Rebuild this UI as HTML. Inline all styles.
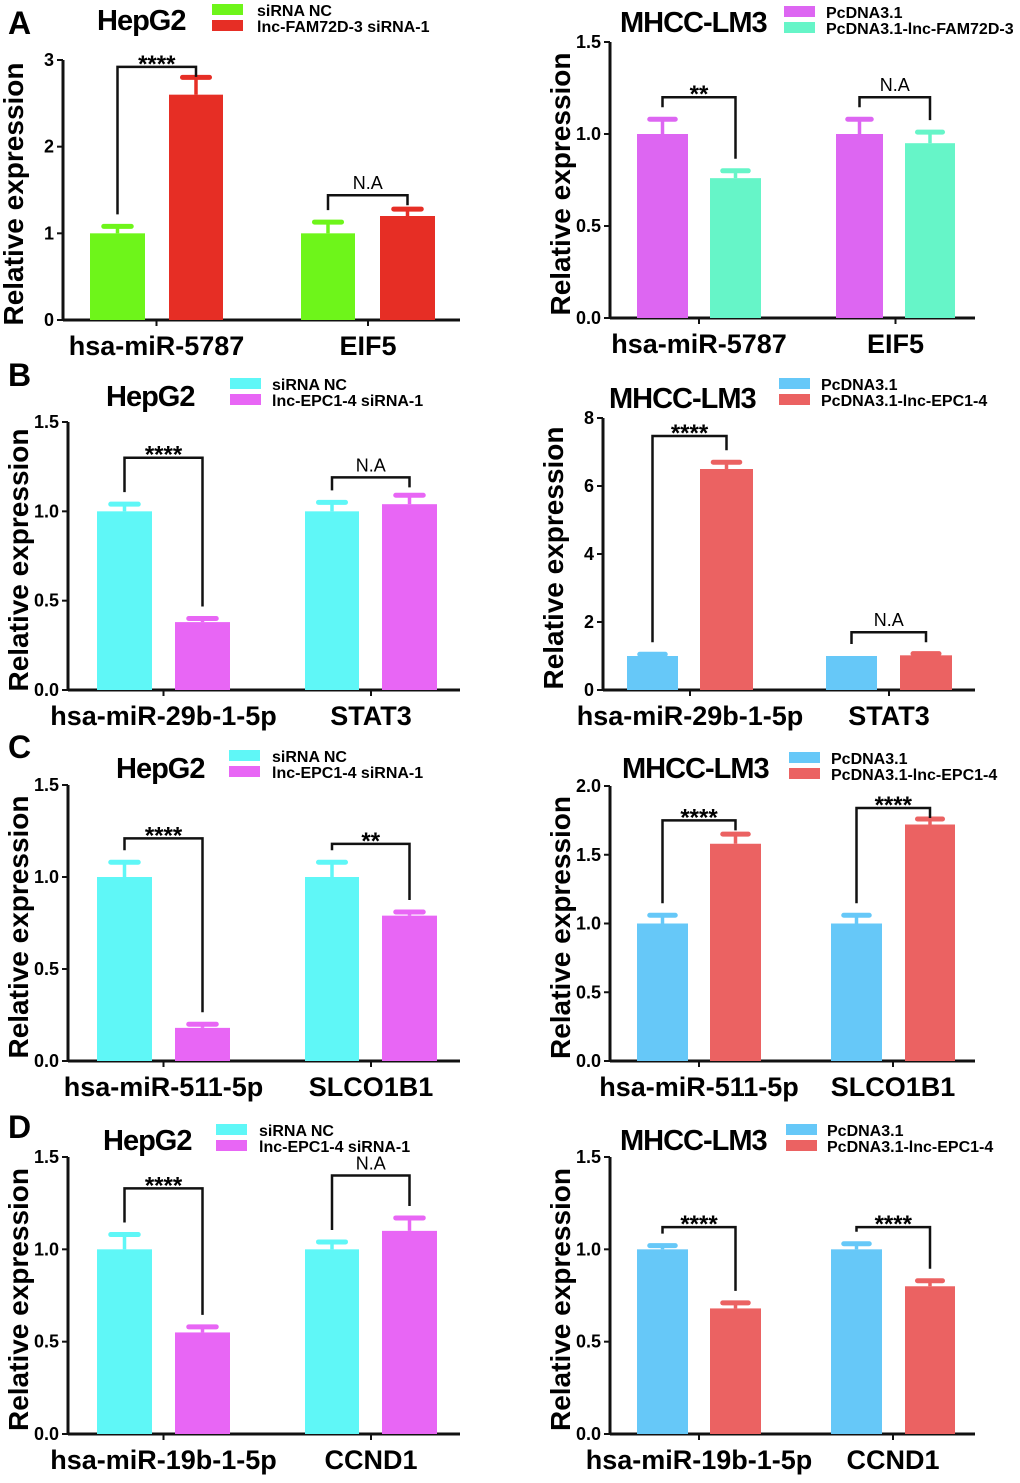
<!DOCTYPE html>
<html><head><meta charset="utf-8"><style>
html,body{margin:0;padding:0;background:#fff}
svg{display:block;font-family:"Liberation Sans",Arial,sans-serif}
</style></head><body>
<svg id="fig" width="1020" height="1483" viewBox="0 0 1020 1483" xmlns="http://www.w3.org/2000/svg"></svg>
<script>
// ---- data ----
const catsA=["hsa-miR-5787","EIF5"];
const catsB=["hsa-miR-29b-1-5p","STAT3"];
const catsC=["hsa-miR-511-5p","SLCO1B1"];
const catsD=["hsa-miR-19b-1-5p","CCND1"];
const aLeftVals=[[1,2.6],[1,1.2]];const aLeftErr=[[0.08,0.2],[0.13,0.08]];
const aRightVals=[[1,0.76],[1,0.95]];const aRightErr=[[0.08,0.04],[0.08,0.06]];
const bLeftVals=[[1,0.38],[1,1.04]];const bLeftErr=[[0.04,0.02],[0.05,0.05]];
const bRightVals=[[1,6.5],[1,1.02]];const bRightErr=[[0.05,0.2],[0,0.05]];
const cLeftVals=[[1,0.18],[1,0.79]];const cLeftErr=[[0.08,0.02],[0.08,0.02]];
const cRightVals=[[1,1.58],[1,1.72]];const cRightErr=[[0.06,0.07],[0.06,0.04]];
const dLeftVals=[[1,0.55],[1,1.1]];const dLeftErr=[[0.08,0.03],[0.04,0.07]];
const dRightVals=[[1,0.68],[1,0.8]];const dRightErr=[[0.02,0.03],[0.03,0.03]];
const ticks3=["0","1","2","3"];const ticks15=["0.0","0.5","1.0","1.5"];
const ticks8=["0","2","4","6","8"];const ticks20=["0.0","0.5","1.0","1.5","2.0"];
const sigA1=["****","N.A"],sigA2=["**","N.A"],sigB1=["****","N.A"],sigB2=["****","N.A"],
      sigC1=["****","**"],sigC2=["****","****"],sigD1=["****","N.A"],sigD2=["****","****"];
const brA1=[2.92,1.44],brA2=[1.2,1.2],brB1=[1.3,1.19],brB2=[7.47,1.7],brC1=[1.21,1.18],brC2=[1.75,1.84],brD1=[1.33,1.4],brD2=[1.12,1.12];
const legHepA=["siRNA NC","lnc-FAM72D-3 siRNA-1"],legLMA=["PcDNA3.1","PcDNA3.1-lnc-FAM72D-3"];
const legHep=["siRNA NC","lnc-EPC1-4 siRNA-1"],legLM=["PcDNA3.1","PcDNA3.1-lnc-EPC1-4"];

const S=document.getElementById('fig');const NS="http://www.w3.org/2000/svg";
function mk(tag,at,parent,txt){const e=document.createElementNS(NS,tag);for(const k in at)e.setAttribute(k,at[k]);if(txt!=null)e.textContent=txt;(parent||S).appendChild(e);return e;}

function panel(p){
  const g=mk('g',{});
  
  
  const ymax=parseFloat(p.ticks[p.ticks.length-1]);
  const Y=v=>p.y0-(v/ymax)*(p.y0-p.ytop);
  const yt=mk('text',{x:0,y:0,transform:`translate(${p.ax-40},${(p.y0+p.ytop)/2+4}) rotate(-90)`,'text-anchor':'middle','font-size':28,'font-weight':'bold'},g,'Relative expression');
  
  mk('line',{x1:p.ax,y1:p.ytop,x2:p.ax,y2:p.y0,stroke:'#111','stroke-width':3},g);
  mk('line',{x1:p.ax,y1:p.y0,x2:p.xend,y2:p.y0,stroke:'#111','stroke-width':3},g);
  p.ticks.forEach(t=>{const y=Y(parseFloat(t));
    mk('line',{x1:p.ax-6,y1:y,x2:p.ax,y2:y,stroke:'#111','stroke-width':2},g);
    const tl=mk('text',{x:p.ax-9,y:y+6,'text-anchor':'end','font-size':18,'font-weight':'bold'},g,t);
    });
  p.groups.forEach((gr,i)=>{
    const cx=(gr[0]+gr[3])/2;
    mk('line',{x1:cx,y1:p.y0,x2:cx,y2:p.y0+6,stroke:'#111','stroke-width':2},g);
    const cl=mk('text',{x:cx,y:p.y0+35,'text-anchor':'middle','font-size':27,'font-weight':'bold'},g,p.cats[i]);
    
    const tops=[];
    [0,1].forEach(j=>{
      const x1=gr[j*2],x2=gr[j*2+1],v=p.vals[i][j],e=p.err[i][j],col=p.colors[j];
      const r=mk('rect',{x:x1,y:Y(v),width:x2-x1,height:p.y0-Y(v),fill:col},g);
      
      const m=(x1+x2)/2,w=(x2-x1)*0.5;
      if(e>0){mk('line',{x1:m,y1:Y(v),x2:m,y2:Y(v+e),stroke:col,'stroke-width':3.5},g);
      mk('line',{x1:m-w/2,y1:Y(v+e),x2:m+w/2,y2:Y(v+e),stroke:col,'stroke-width':5,'stroke-linecap':'round'},g);}
      tops.push({m,y:Y(v+e)});
    });
    const by=Y(p.br[i]);
    const br=mk('path',{d:`M${tops[0].m},${tops[0].y-12}V${by}H${tops[1].m}V${Math.max(by+10,tops[1].y-12)}`,fill:'none',stroke:'#111','stroke-width':2.5},g);
    
    const isNA=p.sig[i]==='N.A';
    const st=mk('text',{x:(tops[0].m+tops[1].m)/2,y:isNA?by-6:by+5,'text-anchor':'middle','font-size':isNA?18:24,'font-weight':isNA?'normal':'bold'},g,p.sig[i]);
    
  });
  const tt=mk('text',{x:p.title[0],y:p.title[1],'font-size':29,'font-weight':'bold','letter-spacing':'-1'},g,p.titleTxt);
  
  [0,1].forEach(j=>{
    const ly=p.leg[1]+j*16;
    const sw=mk('rect',{x:p.leg[0],y:ly,width:31,height:11,fill:p.colors[j]},g);
    
    const lt=mk('text',{x:p.leg[2],y:ly+12,'font-size':16,'font-weight':'bold'},g,p.legTxt[j]);
    
  });
}
const G=['#6ef51a','#e62e25'],PA=['#dd66f2','#66f5c8'],CM=['#5ff7f7','#e866f5'],BS=['#66c8f8','#eb6262'];
const L1=[[90,145,169,223],[301,355,380,435]];
const L2=[[97,152,175,230],[305,359,382,437]];
const R1=[[637,688,710,761],[836,883,905,955]];
const R2=[[627,678,700,753],[826,877,900,952]];
const R3=[[637,688,710,761],[831,882,905,955]];
panel({name:'panel-a-hepg2',ax:63,y0:320,ytop:60,xend:460,ticks:ticks3,groups:L1,cats:catsA,vals:aLeftVals,err:aLeftErr,colors:G,br:brA1,sig:sigA1,title:[97,30],titleTxt:'HepG2',leg:[212,4,257],legTxt:legHepA});
panel({name:'panel-a-mhcc',ax:610,y0:318,ytop:42,xend:975,ticks:ticks15,groups:R1,cats:catsA,vals:aRightVals,err:aRightErr,colors:PA,br:brA2,sig:sigA2,title:[620,32],titleTxt:'MHCC-LM3',leg:[784,6,826],legTxt:legLMA});
panel({name:'panel-b-hepg2',ax:68,y0:690,ytop:422,xend:460,ticks:ticks15,groups:L2,cats:catsB,vals:bLeftVals,err:bLeftErr,colors:CM,br:brB1,sig:sigB1,title:[106,406],titleTxt:'HepG2',leg:[230,378,272],legTxt:legHep});
panel({name:'panel-b-mhcc',ax:603,y0:690,ytop:418,xend:975,ticks:ticks8,groups:R2,cats:catsB,vals:bRightVals,err:bRightErr,colors:BS,br:brB2,sig:sigB2,title:[609,408],titleTxt:'MHCC-LM3',leg:[779,378,821],legTxt:legLM});
panel({name:'panel-c-hepg2',ax:68,y0:1061,ytop:785,xend:460,ticks:ticks15,groups:L2,cats:catsC,vals:cLeftVals,err:cLeftErr,colors:CM,br:brC1,sig:sigC1,title:[116,778],titleTxt:'HepG2',leg:[229,750,272],legTxt:legHep});
panel({name:'panel-c-mhcc',ax:610,y0:1061,ytop:786,xend:975,ticks:ticks20,groups:R3,cats:catsC,vals:cRightVals,err:cRightErr,colors:BS,br:brC2,sig:sigC2,title:[622,778],titleTxt:'MHCC-LM3',leg:[789,752,831],legTxt:legLM});
panel({name:'panel-d-hepg2',ax:68,y0:1434,ytop:1157,xend:460,ticks:ticks15,groups:L2,cats:catsD,vals:dLeftVals,err:dLeftErr,colors:CM,br:brD1,sig:sigD1,title:[103,1150],titleTxt:'HepG2',leg:[216,1124,259],legTxt:legHep});
panel({name:'panel-d-mhcc',ax:610,y0:1434,ytop:1157,xend:975,ticks:ticks15,groups:R3,cats:catsD,vals:dRightVals,err:dRightErr,colors:BS,br:brD2,sig:sigD2,title:[620,1150],titleTxt:'MHCC-LM3',leg:[786,1124,827],legTxt:legLM});
[['A',34],['B',386],['C',758],['D',1138]].forEach(a=>{
  const t=mk('text',{x:8,y:a[1],'font-size':32,'font-weight':'bold'},S,a[0]);
  
  
});
</script>
</body></html>
